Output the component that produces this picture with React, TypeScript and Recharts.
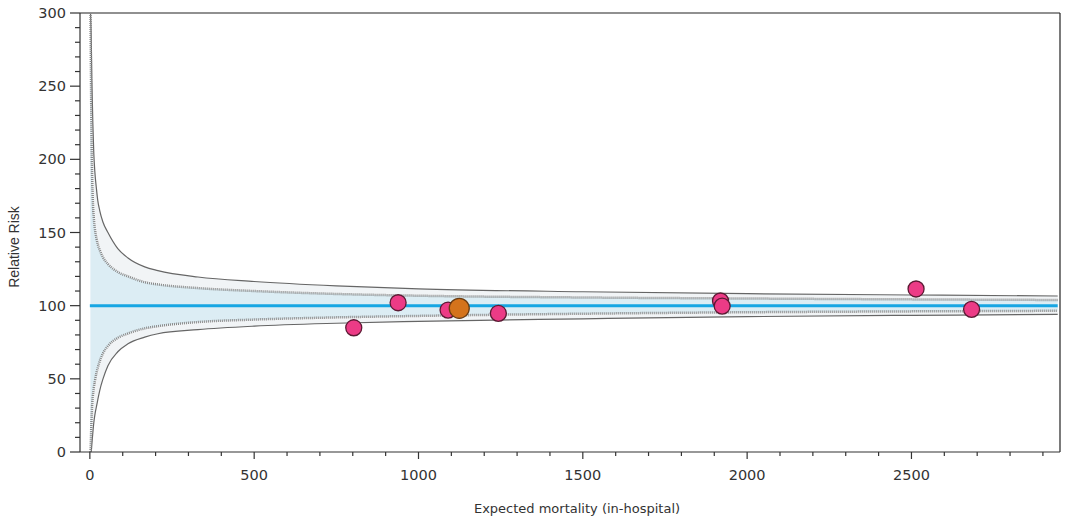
import {
  Area,
  ComposedChart,
  Line,
  ReferenceLine,
  Scatter,
  XAxis,
  YAxis,
} from 'recharts'

const expected = [2, 4, 6, 9, 12, 15, 20, 24, 30, 40, 55, 85, 116, 167, 207, 329, 500, 750, 1000, 1500, 2000, 2500, 2945]
// 99.8% limits (solid) and 95% limits (dotted)
const upper998 = [300, 285, 255, 225, 204, 192, 180, 172, 165, 157, 150, 139, 132.6, 126.5, 124, 119.6, 116.5, 113.5, 111.5, 109.5, 108.2, 107.3, 106.6]
const upper95 = [300, 240, 200, 172, 160, 153, 146, 142, 138, 133, 128.5, 123, 120, 116, 114.5, 112, 110, 108, 106.8, 105.6, 104.9, 104.3, 103.9]
const lower95 = [0, 15, 28, 38, 44, 48, 54, 57.5, 62, 67.5, 72.5, 78, 81, 84.5, 86, 88.8, 90.5, 92, 93, 94.5, 95.5, 96.1, 96.5]
const lower998 = [0, 0, 5, 13, 20, 25, 31, 35.5, 42, 50, 59, 68.5, 74, 78.5, 80.8, 83.6, 86, 88, 89.3, 91, 92.5, 93.4, 94]

const targetE = [0, 2945]
const targetRR = [100, 100]

// hospitals
const hospE = [803, 938, 1090, 1243, 1919, 1924, 2514, 2683]
const hospRR = [84.9, 102, 97, 94.8, 103.2, 99.7, 111.4, 97.5]
// highlighted hospital
const selE = [1124]
const selRR = [98.2]

const xTicks = Array.from({ length: 30 }, (_, i) => i * 100)
const yTicks = Array.from({ length: 31 }, (_, i) => i * 10)

const funnel = expected.map((e, i) => ({
  e,
  us: upper998[i],
  ud: upper95[i],
  ld: lower95[i],
  ls: lower998[i],
}))
const target = targetE.map((e, i) => ({ e, rr: targetRR[i] }))
const hospitals = hospE.map((e, i) => ({ e, rr: hospRR[i] }))
const selected = selE.map((e, i) => ({ e, rr: selRR[i] }))

const tickFont = { fontFamily: 'DejaVu Sans, Verdana, sans-serif', fontSize: 14.5, fill: '#333' }

function XTick(props: any) {
  const { x, y, payload } = props
  const major = payload.value % 500 === 0
  return (
    <g>
      <line x1={x} x2={x} y1={y} y2={y + (major ? 7 : 4)} stroke="#333" strokeWidth={1.2} />
      {major && (
        <text x={x} y={y + 28} textAnchor="middle" {...tickFont}>
          {payload.value}
        </text>
      )}
    </g>
  )
}

function YTick(props: any) {
  const { x, y, payload } = props
  const major = payload.value % 50 === 0
  return (
    <g>
      <line x1={x - (major ? 10 : 5)} x2={x} y1={y} y2={y} stroke="#333" strokeWidth={1.2} />
      {major && (
        <text x={x - 14} y={y + 5} textAnchor="end" {...tickFont}>
          {payload.value}
        </text>
      )}
    </g>
  )
}

function YTitle() {
  return (
    <text
      transform="translate(19, 247) rotate(-90)"
      textAnchor="middle"
      fontFamily="Liberation Sans, Arial, sans-serif"
      fontSize={14}
      fill="#333"
    >
      Relative Risk
    </text>
  )
}

function Dot(props: any) {
  const { cx, cy, fill, stroke, r } = props
  return <circle cx={cx} cy={cy} r={r} fill={fill} stroke={stroke} strokeWidth={1.3} />
}

export default function App() {
  return (
    <div style={{ position: 'absolute', left: 0, top: 0, background: '#fff' }}>
      <ComposedChart width={1067} height={520} margin={{ top: 13, right: 7, bottom: 0, left: 0 }}>
        <XAxis
          dataKey="e"
          type="number"
          domain={[-30, 2952]}
          allowDataOverflow
          ticks={xTicks}
          interval={0}
          tick={<XTick />}
          tickLine={false}
          tickSize={0}
          tickMargin={0}
          height={68}
          axisLine={{ stroke: '#333', strokeWidth: 1.2 }}
          label={{
            value: 'Expected mortality (in-hospital)',
            position: 'insideBottom',
            offset: 7,
            dx: 7,
            style: { fontFamily: 'DejaVu Sans, Verdana, sans-serif', fontSize: 13, fill: '#333' },
          }}
        />
        <YAxis
          type="number"
          domain={[0, 300]}
          allowDataOverflow
          ticks={yTicks}
          interval={0}
          tick={<YTick />}
          tickLine={false}
          tickSize={0}
          tickMargin={0}
          width={80}
          axisLine={{ stroke: '#333', strokeWidth: 1.2 }}
          label={{ content: () => <YTitle /> }}
        />
        <Area
          data={funnel}
          dataKey={(d: any) => [d.ls, d.us]}
          type="monotone"
          fill="#f1f4f6"
          fillOpacity={1}
          stroke="none"
          isAnimationActive={false}
        />
        <Area
          data={funnel}
          dataKey={(d: any) => [d.ld, d.ud]}
          type="monotone"
          fill="#dcedf4"
          fillOpacity={1}
          stroke="none"
          isAnimationActive={false}
        />
        <ReferenceLine y={300} stroke="#222" strokeWidth={1.2} />
        <ReferenceLine x={2952} stroke="#222" strokeWidth={1.2} />
        <Line data={funnel} dataKey="us" type="monotone" stroke="#666" strokeWidth={1.2} dot={false} isAnimationActive={false} />
        <Line data={funnel} dataKey="ls" type="monotone" stroke="#666" strokeWidth={1.2} dot={false} isAnimationActive={false} />
        <Line data={funnel} dataKey="ud" type="monotone" stroke="#888" strokeWidth={2.5} strokeDasharray="1 1" dot={false} isAnimationActive={false} />
        <Line data={funnel} dataKey="ld" type="monotone" stroke="#888" strokeWidth={2.5} strokeDasharray="1 1" dot={false} isAnimationActive={false} />
        <Line data={target} dataKey="rr" type="linear" stroke="#17a6e3" strokeWidth={3} dot={false} isAnimationActive={false} />
        <Scatter
          data={hospitals}
          dataKey="rr"
          shape={<Dot r={8} fill="#ec3b86" stroke="#5b1a33" />}
          isAnimationActive={false}
        />
        <Scatter
          data={selected}
          dataKey="rr"
          shape={<Dot r={10} fill="#d4731c" stroke="#6a3b12" />}
          isAnimationActive={false}
        />
      </ComposedChart>
    </div>
  )
}
